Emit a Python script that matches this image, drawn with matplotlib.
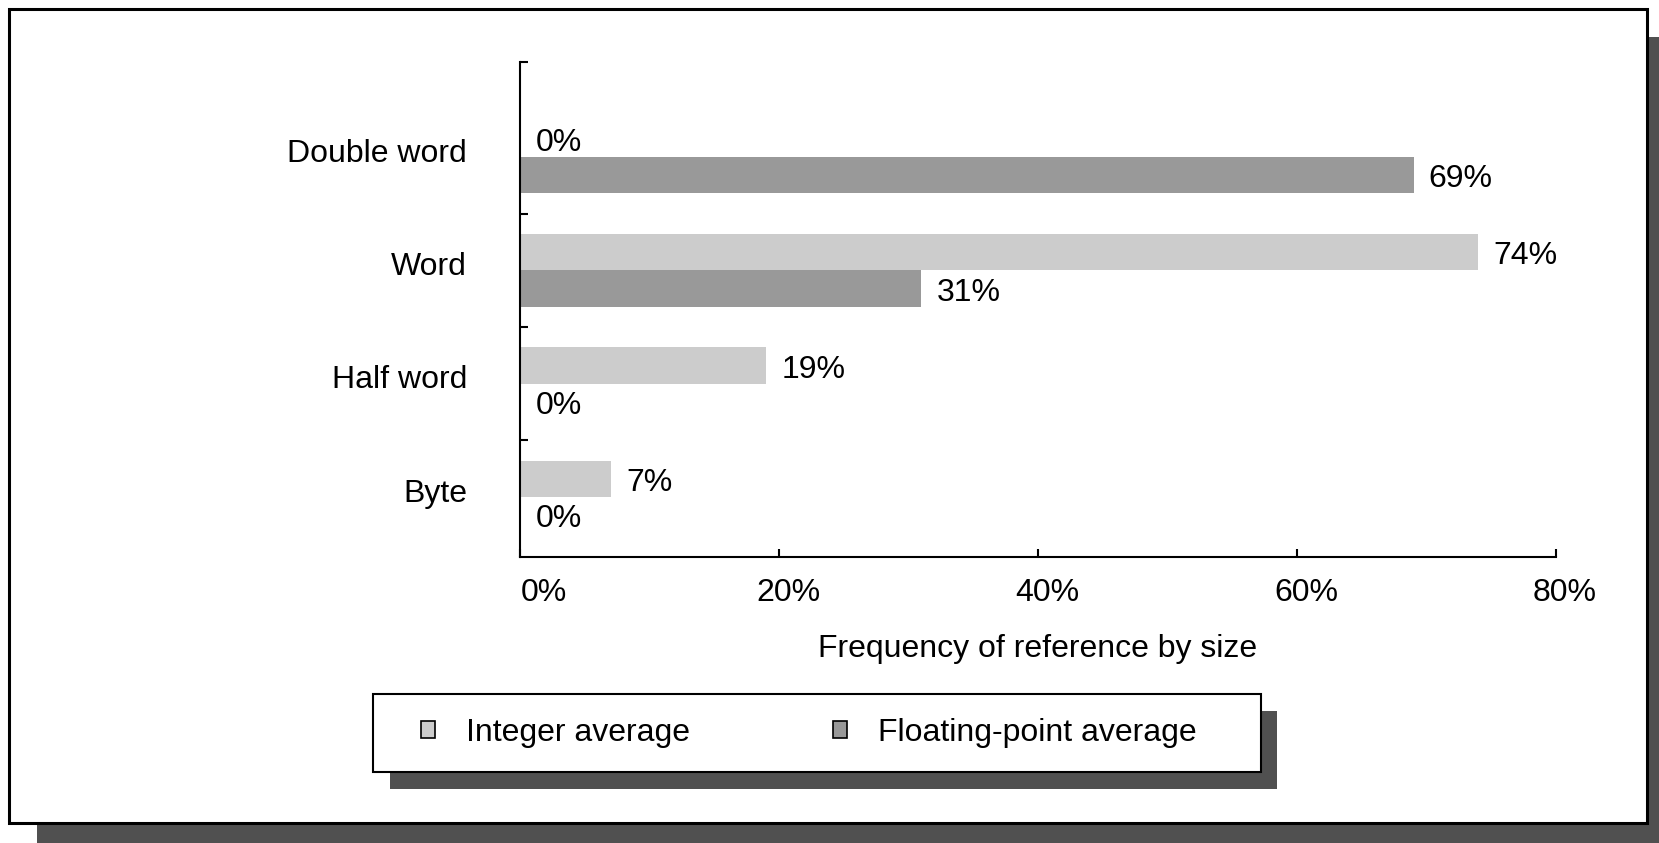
import matplotlib
matplotlib.use("Agg")
import matplotlib.pyplot as plt
from matplotlib.patches import Rectangle, Patch
from matplotlib.transforms import ScaledTranslation, blended_transform_factory

plt.rcParams['font.family'] = ['Liberation Sans', 'DejaVu Sans']

# data
categories = ['Byte', 'Half word', 'Word', 'Double word']
integer_avg = [7, 19, 74, 0]
float_avg = [0, 0, 31, 69]
xtick_vals = [0, 20, 40, 60, 80]
series_names = ['Integer average', 'Floating-point average']

W, H = 1659, 843
FS = 23
int_col, fp_col = '#cccccc', '#999999'
shadow_col = '#505050'

fig = plt.figure(figsize=(W / 100, H / 100), dpi=100)
fig.patch.set_facecolor('white')


def px_rect(x0, y0, x1, y1, **kw):
    """Rectangle given in pixel coords (origin top-left) -> figure fraction."""
    return Rectangle((x0 / W, (H - y1) / H), (x1 - x0) / W, (y1 - y0) / H,
                     transform=fig.transFigure, **kw)


# page frame with its drop shadow
fig.patches.append(px_rect(37, 37, W, H, facecolor=shadow_col, edgecolor='none', zorder=-3))
fig.patches.append(px_rect(9, 9, 1647, 823, facecolor='white', edgecolor='black',
                           linewidth=2.2, zorder=-2))

# legend box with its drop shadow
fig.patches.append(px_rect(390, 711, 1277, 789, facecolor=shadow_col, edgecolor='none', zorder=2))
fig.patches.append(px_rect(373, 694, 1261, 772, facecolor='white', edgecolor='black',
                           linewidth=1.5, zorder=3))

ax = fig.add_axes([520 / W, 286 / H, 1036 / W, 495 / H])
ax.set_facecolor('none')

ypos = list(range(len(categories)))
bh = 0.32
ax.barh([y + bh / 2 for y in ypos], integer_avg, height=bh, color=int_col)
ax.barh([y - bh / 2 for y in ypos], float_avg, height=bh, color=fp_col)

ytop = 3.84
ax.set_xlim(0, 80)
ax.set_ylim(-0.53, ytop)

# value labels
for y, v in zip(ypos, integer_avg):
    ax.annotate(f'{v}%', (v, y + bh / 2), xytext=(11, -3), textcoords='offset points',
                va='center', ha='left', fontsize=FS)
for y, v in zip(ypos, float_avg):
    ax.annotate(f'{v}%', (v, y - bh / 2), xytext=(11, -3), textcoords='offset points',
                va='center', ha='left', fontsize=FS)

# category labels
trans = blended_transform_factory(ax.transAxes, ax.transData)
for y, c in zip(ypos, categories):
    ax.text(-0.051, y + 0.03, c, transform=trans, ha='right', va='center', fontsize=FS)

for s in ['top', 'right']:
    ax.spines[s].set_visible(False)
for s in ['left', 'bottom']:
    ax.spines[s].set_linewidth(1.5)

ax.set_yticks([0.5, 1.5, 2.5, ytop])
ax.set_yticklabels([])
ax.tick_params(axis='y', direction='in', length=6, width=1.5)

ax.set_xticks(xtick_vals)
ax.set_xticklabels([f'{v}%' for v in xtick_vals], fontsize=FS)
ax.tick_params(axis='x', direction='in', length=6, width=1.5, pad=15)
for i, lab in enumerate(ax.get_xticklabels()):
    dx = 24 if i == 0 else 9
    lab.set_transform(lab.get_transform() + ScaledTranslation(dx / 100, 0, fig.dpi_scale_trans))

ax.set_xlabel('Frequency of reference by size', fontsize=FS, labelpad=18.5)

handles = [Patch(facecolor=int_col, edgecolor='black', linewidth=1.2),
           Patch(facecolor=fp_col, edgecolor='black', linewidth=1.2)]
leg = fig.legend(handles, series_names, loc='center left', ncol=2,
                 bbox_to_anchor=(421 / W, (H - 733) / H), borderaxespad=0,
                 fontsize=FS, frameon=False, borderpad=0,
                 handlelength=0.45, handleheight=0.45, handletextpad=0.96,
                 columnspacing=4.47)
leg.set_zorder(5)

fig.savefig('out.png', dpi=100)
